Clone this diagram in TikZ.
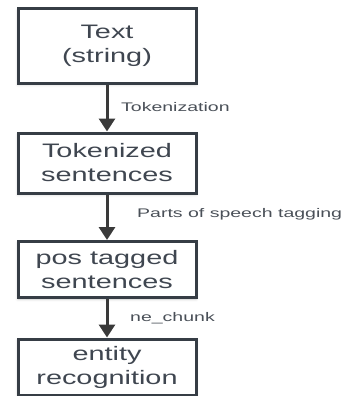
\documentclass[tikz,border=0pt]{standalone}
\usepackage{fontspec}
\setmainfont{Liberation Sans}[FakeStretch=1.48]
\newfontfamily\labfont{Liberation Sans}[FakeStretch=1.56]
\usetikzlibrary{arrows.meta,shadows.blur}
\definecolor{boxtext}{HTML}{3F4650}
\definecolor{labtext}{HTML}{4A5058}
\definecolor{boxline}{HTML}{363D45}
\definecolor{arrowc}{HTML}{3A3A3A}
\begin{document}
\begin{tikzpicture}[x=1pt,y=-1pt,
  stage/.style={draw=boxline, line width=3pt, fill=white, minimum width=178pt,
    inner sep=0pt, align=center, text=boxtext,
    font=\fontsize{19.5pt}{24pt}\selectfont,
    blur shadow={shadow xshift=0pt, shadow yshift=-1.5pt, shadow blur radius=3pt, shadow opacity=20}},
  flow/.style={draw=arrowc, line width=3pt, -{Triangle[width=16pt,length=13pt]}},
  lab/.style={anchor=west, text=labtext, inner sep=0pt, font=\labfont\fontsize{12.5pt}{15pt}\selectfont}
]
\useasboundingbox (0,0) rectangle (345,396);
\node[stage, minimum height=74pt] (b1) at (107,46) {Text\\(string)};
\node[stage, minimum height=60pt] (b2) at (107,163) {Tokenized\\sentences};
\node[stage, minimum height=56pt] (b3) at (107,269.5) {pos tagged\\sentences};
\node[stage, minimum height=56pt] (b4) at (107,367) {entity\\recognition};
\draw[flow] (b1.south) -- (b2.north);
\draw[flow] (b2.south) -- (b3.north);
\draw[flow] (b3.south) -- (b4.north);
\node[lab] (l1) at (121,107) {Tokenization};
\node[lab] (l2) at (137,214) {Parts of speech tagging};
\node[lab] (l3) at (130,318) {ne\_chunk};
\end{tikzpicture}
\end{document}
